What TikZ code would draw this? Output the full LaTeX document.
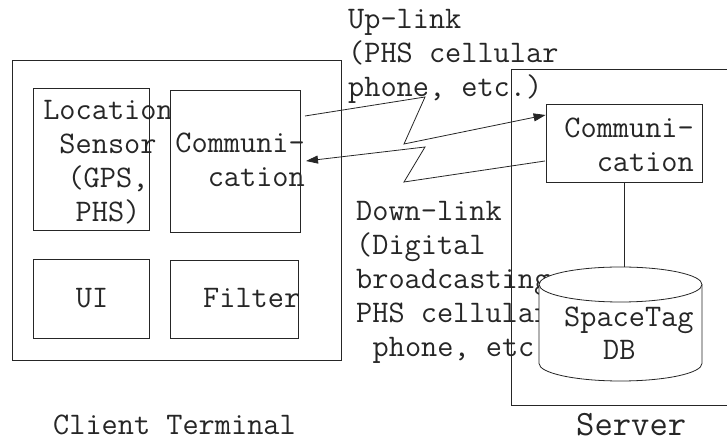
\documentclass[tikz,border=0pt]{standalone}
\usepackage{fontspec}
\usetikzlibrary{arrows.meta}

\begin{document}
\begin{tikzpicture}[x=1pt, y=1pt,
    box/.style={
        draw=black!85,
        fill=white,
        line width=0.8pt,
        inner sep=0pt
      },
    txt/.style={
        font=\ttfamily\fontsize{31.4}{34}\selectfont,
        inner sep=0pt,
        text=black!85
      },
    arr/.style={-{Triangle[length=12pt,width=8pt]}, black!85, line width=0.8pt},
    link/.style={black!85, line width=0.8pt}
  ]
  \useasboundingbox (0,0) rectangle (727,443);

  % client terminal
  \node[box, minimum width=329, minimum height=300] (client) at (176.5,233) {};
  \node[box, minimum width=116, minimum height=142] (loc) at (91,284) {};
  \node[txt, align=center, anchor=base] (loc_txt) at (108,221) {Location\\Sensor\\(GPS,\\PHS)};
  \node[box, minimum width=130, minimum height=142] (ccomm) at (235,282) {};
  \node[txt, align=right, anchor=base east] (ccomm_txt) at (305,256) {Communi-\\cation};
  \node[box, minimum width=116, minimum height=79] (ui) at (91,144.5) {};
  \node[txt, anchor=base] (ui_txt) at (92,135) {UI};
  \node[box, minimum width=128, minimum height=78] (filt) at (234,144) {};
  \node[txt, anchor=base west] (filt_txt) at (203,135) {Filter};
  \node[txt, anchor=base west] (client_lbl) at (53,8) {Client Terminal};

  % link labels
  \node[txt, align=left, anchor=base west] (up_txt) at (348,346) {Up-link\\(PHS cellular\\phone, etc.)};
  \node[txt, align=left, anchor=base west] (down_txt) at (356,86)
    {Down-link\\(Digital\\broadcasting,\\PHS cellular,\\\hspace*{0.525em}phone, etc.)};

  % server
  \draw[link] (727,374) -| (511,38) -- (727,38);
  \node[box, minimum width=156, minimum height=78] (scomm) at (624,300) {};
  \node[txt, align=right, anchor=base east] (scomm_txt) at (694,271) {Communi-\\cation};
  \filldraw[link, fill=white] (539,158.5) -- (539,79.5) arc (180:360:81.5 and 17.5)
    -- (702,158.5) arc (0:180:81.5 and 17.5) -- cycle;
  \draw[link] (539,158.5) arc (180:360:81.5 and 17.5);
  \coordinate (db_top) at (620.5,176);
  \node[txt, anchor=base west] (db_txt) at (564,116) {SpaceTag};
  \node[txt, anchor=base west] (db_txt2) at (603,83) {DB};
  \node[txt, font=\ttfamily\fontsize{35.6}{40}\selectfont, anchor=base west] (server_lbl) at (576,7) {Server};
  \draw[link] (scomm.south) -- (scomm.south |- db_top);

  % radio links
  \coordinate (up_a) at (305,327);
  \coordinate (up_b) at (425,346);
  \coordinate (up_c) at (404,299);
  \coordinate (dn_a) at (545,282);
  \coordinate (dn_b) at (404,261);
  \coordinate (dn_c) at (425,296);
  \coordinate (dn_d) at (306,282);
  \draw[arr] (up_a) -- (up_b) -- (up_c) -- (scomm.west |- 0,328);
  \draw[arr] (dn_a) -- (dn_b) -- (dn_c) -- (dn_d);
\end{tikzpicture}
\end{document}
